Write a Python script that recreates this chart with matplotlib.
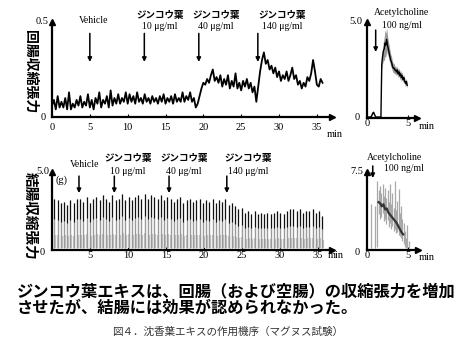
import matplotlib
matplotlib.use('Agg')
import matplotlib.pyplot as plt
import numpy as np

plt.rcParams['font.family'] = ['Liberation Serif', 'Noto Sans CJK JP']

W, H = 460, 355
JP = ['Noto Sans CJK JP', 'DejaVu Sans']

# --- 回腸 (ileum) trace, one value every 0.25 min ---
ileum_step = 0.25
ileum_force = [
    0.06, 0.09, 0.04, 0.11, 0.05, 0.08, 0.05, 0.10, 0.04, 0.13, 0.04, 0.07,
    0.05, 0.09, 0.06, 0.11, 0.05, 0.08, 0.06, 0.12, 0.05, 0.09, 0.04, 0.10,
    0.07, 0.13, 0.05, 0.09, 0.07, 0.11, 0.05, 0.14, 0.06, 0.10, 0.07, 0.12,
    0.07, 0.10, 0.08, 0.13, 0.07, 0.12, 0.08, 0.11, 0.07, 0.13, 0.08, 0.10,
    0.07, 0.12, 0.08, 0.10, 0.07, 0.11, 0.08, 0.10, 0.07, 0.11, 0.08, 0.12,
    0.07, 0.10, 0.08, 0.11, 0.07, 0.12, 0.08, 0.10, 0.08, 0.13, 0.08, 0.11,
    0.09, 0.13, 0.08, 0.10, 0.05, 0.07, 0.11, 0.15, 0.18, 0.17, 0.20, 0.18,
    0.22, 0.25, 0.19, 0.21, 0.18, 0.22, 0.16, 0.20, 0.17, 0.22, 0.15, 0.19,
    0.16, 0.23, 0.15, 0.18, 0.14, 0.19, 0.16, 0.20, 0.15, 0.18, 0.13, 0.16,
    0.08, 0.16, 0.24, 0.30, 0.34, 0.28, 0.30, 0.25, 0.27, 0.23, 0.26, 0.21,
    0.24, 0.19, 0.22, 0.20, 0.24, 0.19, 0.22, 0.26, 0.20, 0.22, 0.17, 0.19,
    0.15, 0.18, 0.16, 0.21, 0.19, 0.23, 0.30, 0.24, 0.17, 0.16, 0.20, 0.18,
]
ileum_dose_t = [5.0, 12.2, 19.4, 27.2]
ileum_label_t = [5.55, 14.3, 21.7, 30.4]

# --- 回腸 アセチルコリン, one value every 0.1 min ---
ach_il_step = 0.1
ach_il_mean = [
    0.05, 0.05, 0.05, 0.05, 0.05, 0.05, 0.15, 0.25, 0.30, 0.20, 0.10, 0.05,
    0.05, 0.05, 0.05, 0.05, 0.05, 0.05, 2.8, 3.2, 3.5, 3.6, 3.9, 3.8, 4.1,
    3.8, 3.6, 3.4, 3.2, 3.0, 2.9, 2.7, 2.6, 2.6, 2.5, 2.5, 2.4, 2.5, 2.3,
    2.4, 2.2, 2.3, 2.1, 2.2, 2.0, 2.1, 1.9, 1.8, 1.9, 1.7,
]
ach_il_spread = [
    0.02, 0.02, 0.02, 0.02, 0.02, 0.02, 0.03, 0.04, 0.04, 0.03, 0.02, 0.02,
    0.02, 0.02, 0.02, 0.02, 0.02, 0.02, 0.3, 0.4, 0.5, 0.6, 0.7, 0.6, 0.6,
    0.5, 0.4, 0.4, 0.35, 0.3, 0.3, 0.25, 0.25, 0.25, 0.2, 0.2, 0.2, 0.2, 0.2,
    0.2, 0.2, 0.2, 0.2, 0.2, 0.15, 0.15, 0.15, 0.15, 0.15, 0.15,
]
ach_il_dose_t = 1.06

# --- 結腸 (colon) spikes, one every 0.425 min from 0.3 min ---
colon_start = 0.3
colon_period = 0.425
colon_peaks = [
    3.3, 3.2, 3.0, 3.1, 2.9, 3.2, 3.0, 3.3,
    3.3, 3.1, 3.4, 3.0, 3.3, 3.4, 3.2, 3.5,
    3.3, 3.1, 3.5, 3.2, 3.3, 3.6, 3.2, 3.4,
    3.2, 3.4, 3.5, 3.3, 3.6, 3.3, 3.5, 3.4,
    3.3, 3.5, 3.2, 3.4, 3.3, 3.1, 3.3, 3.4,
    3.0, 3.2, 3.3, 3.1, 3.2, 3.3, 3.0, 3.2,
    3.1, 3.3, 3.0, 3.2, 3.1, 3.3, 2.9, 3.0,
    2.8, 2.6, 2.7, 2.4, 2.5, 2.3, 2.5, 2.3,
    2.4, 2.3, 2.4, 2.3, 2.4, 2.5, 2.4, 2.3,
    2.5, 2.6, 2.6, 2.5, 2.6, 2.4, 2.5, 2.5,
    2.6, 2.4, 2.5, 2.2,
]
colon_trough = 0.15
colon_dose_t = [3.55, 8.2, 15.4, 23.0]
colon_label_t = [4.34, 10.0, 17.4, 25.8]

# --- 結腸 アセチルコリン spikes ---
ach_co_t = [0.45, 0.95, 1.25, 1.45, 1.6, 1.75, 1.9, 2.05, 2.2, 2.35, 2.5,
            2.65, 2.8, 2.95, 3.1, 3.25, 3.4, 3.55, 3.7, 3.85, 4.0, 4.15,
            4.3, 4.45, 4.6, 4.75, 4.9, 5.05]
ach_co_low = [0.2, 0.2, 0.3, 3.5, 3.0, 3.2, 3.6, 2.8, 3.0, 2.5, 2.9, 2.2,
              2.6, 2.0, 2.3, 1.8, 2.0, 1.6, 1.7, 1.4, 1.3, 1.2, 0.9, 0.6,
              0.3, 0.2, 0.2, 0.2]
ach_co_high = [4.4, 4.2, 6.6, 5.8, 6.2, 5.5, 6.3, 5.2, 6.0, 5.0, 5.8, 4.6,
               6.3, 4.4, 5.5, 4.0, 6.6, 3.8, 4.7, 5.9, 3.6, 4.2, 3.0, 2.6,
               1.8, 1.2, 2.4, 0.9]
ach_co_mid_t0 = 1.4
ach_co_mid_step = 0.2
ach_co_mid = [4.6, 4.5, 4.2, 4.4, 3.9, 4.0, 3.6, 3.4, 3.2, 3.0, 2.8, 2.6,
              2.3, 2.0, 1.7, 1.5]
ach_co_dose_t = 0.7

xticks_main = [0, 5, 10, 15, 20, 25, 30, 35]


def px_axes(fig, left, top, right, bottom):
    return fig.add_axes([left / W, 1 - bottom / H, (right - left) / W, (bottom - top) / H])


def style_axes(ax, xmax, ymax):
    ax.set_xlim(0, xmax)
    ax.set_ylim(0, ymax)
    for s in ['top', 'right']:
        ax.spines[s].set_visible(False)
    for s in ['left', 'bottom']:
        ax.spines[s].set_linewidth(1.6)
    ax.plot([0], [ymax], marker='^', color='k', ms=4.5, clip_on=False)
    ax.plot([xmax], [0], marker='>', color='k', ms=4.5, clip_on=False)
    ax.set_yticks([])
    ax.tick_params(axis='x', direction='in', length=2, width=0.8, labelsize=7.5, pad=2)
    ax.patch.set_alpha(0)


def dose_arrow(ax, x, y0, y1):
    ax.annotate('', xy=(x, y1), xytext=(x, y0),
                arrowprops=dict(arrowstyle='-|>', color='k', lw=1.1, mutation_scale=6,
                                shrinkA=0, shrinkB=0),
                annotation_clip=False)


fig = plt.figure(figsize=(W / 100, H / 100), dpi=100)

# ---------------- ileum ----------------
ax1 = px_axes(fig, 52, 22, 332, 117)
t1 = np.arange(len(ileum_force)) * ileum_step
ax1.plot(t1, ileum_force, color='k', lw=1.3)
style_axes(ax1, 37, 0.5)
ax1.set_xticks(xticks_main)
ax1.tick_params(axis='x', pad=4)
ax1.text(-0.5, 0.5, '0.5', ha='right', va='center', fontsize=7.5)
ax1.text(-0.8, 0.0, '0', ha='right', va='center', fontsize=7.5)
ax1.text(37.3, -0.09, 'min', ha='center', va='center', fontsize=7.5)
ax1.text(ileum_label_t[0], 0.51, 'Vehicle', ha='center', va='center', fontsize=7)
doses = ['10', '40', '140']
for i, t in enumerate(ileum_dose_t):
    dose_arrow(ax1, t, 0.44, 0.29)
    if i > 0:
        ax1.text(ileum_label_t[i], 0.537, 'ジンコウ葉', ha='center', va='center',
                 fontsize=6.8, fontweight='bold', family=JP)
        ax1.text(ileum_label_t[i], 0.474, doses[i - 1] + ' μg/ml', ha='center',
                 va='center', fontsize=7)

# ---------------- ileum ACh ----------------
ax2 = px_axes(fig, 367, 22, 417, 118)
t2 = np.arange(len(ach_il_mean)) * ach_il_step
m2 = np.array(ach_il_mean)
s2 = np.array(ach_il_spread)
ax2.fill_between(t2, m2 - s2, m2 + s2, color='#999999', lw=0)
ax2.plot(t2, m2, color='k', lw=1.0)
style_axes(ax2, 6.1, 5.0)
ax2.set_xticks([0, 5])
ax2.tick_params(axis='x', pad=1)
ax2.text(-0.6, 5.0, '5.0', ha='right', va='center', fontsize=7.5)
ax2.text(-0.9, 0.0, '0', ha='right', va='center', fontsize=7.5)
ax2.text(7.3, -0.45, 'min', ha='center', va='center', fontsize=7.5)
ax2.text(4.27, 5.47, 'Acetylcholine', ha='center', va='center', fontsize=7)
ax2.text(4.27, 4.84, '100 ng/ml', ha='center', va='center', fontsize=7)
dose_arrow(ax2, ach_il_dose_t, 4.58, 3.44)

# ---------------- colon ----------------
ax3 = px_axes(fig, 52, 172, 332, 250)
t3 = colon_start + np.arange(len(colon_peaks)) * colon_period
p3 = np.array(colon_peaks)
ax3.vlines(t3 + 0.1, colon_trough, p3 * 0.3, color='#c4c4c4', lw=1.6)
ax3.vlines(t3, colon_trough, p3, color='#9a9a9a', lw=1.0)
ax3.vlines(t3, p3 * 0.6, p3, color='#111111', lw=0.8)
style_axes(ax3, 36.84, 5.0)
ax3.set_xticks(xticks_main)
ax3.set_xticklabels([''] + [str(v) for v in xticks_main[1:]])
ax3.tick_params(axis='x', pad=1)
ax3.text(-0.3, 5.0, '5.0', ha='right', va='center', fontsize=7.5)
ax3.text(1.2, 4.5, '(g)', ha='center', va='center', fontsize=7.5)
ax3.text(-0.9, -0.15, '0', ha='right', va='center', fontsize=7.5)
ax3.text(37.3, -0.35, 'min', ha='center', va='center', fontsize=7.5)
ax3.text(colon_label_t[0], 5.45, 'Vehicle', ha='center', va='center', fontsize=7)
for i, t in enumerate(colon_dose_t):
    dose_arrow(ax3, t, 4.74, 3.65)
    if i > 0:
        ax3.text(colon_label_t[i], 5.9, 'ジンコウ葉', ha='center', va='center',
                 fontsize=6.8, fontweight='bold', family=JP)
        ax3.text(colon_label_t[i], 5.0, doses[i - 1] + ' μg/ml', ha='center',
                 va='center', fontsize=7)

# ---------------- colon ACh ----------------
ax4 = px_axes(fig, 367, 172, 418, 250)
ax4.vlines(ach_co_t, ach_co_low, ach_co_high, color='#a8a8a8', lw=0.9)
tm = ach_co_mid_t0 + np.arange(len(ach_co_mid)) * ach_co_mid_step
ax4.plot(tm, ach_co_mid, color='#333333', lw=1.6)
style_axes(ax4, 6.2, 7.5)
ax4.set_xticks([0, 5])
ax4.tick_params(axis='x', pad=1)
ax4.text(-0.4, 7.5, '7.5', ha='right', va='center', fontsize=7.5)
ax4.text(-0.9, -0.2, '0', ha='right', va='center', fontsize=7.5)
ax4.text(7.3, -0.7, 'min', ha='center', va='center', fontsize=7.5)
ax4.text(3.4, 8.94, 'Acetylcholine', ha='center', va='center', fontsize=7)
ax4.text(4.5, 7.79, '100 ng/ml', ha='center', va='center', fontsize=7)
dose_arrow(ax4, ach_co_dose_t, 8.08, 6.92)

# ---------------- y labels & captions ----------------
fig.text(30 / W, 1 - 72 / H, '回腸収縮張力', rotation=-90, ha='center', va='center',
         fontsize=10, fontweight='bold', family=JP)
fig.text(31 / W, 1 - 216 / H, '結腸収縮張力', rotation=-90, ha='center', va='center',
         fontsize=10.5, fontweight='bold', family=JP)
fig.text(17 / W, 1 - 291 / H, 'ジンコウ葉エキスは、回腸（および空腸）の収縮張力を増加',
         ha='left', va='center', fontsize=11.7, fontweight='bold', family=JP)
fig.text(17 / W, 1 - 308 / H, 'させたが、結腸には効果が認められなかった。',
         ha='left', va='center', fontsize=11.7, fontweight='bold', family=JP)
fig.text(228 / W, 1 - 332 / H, '図４．沈香葉エキスの作用機序（マグヌス試験）',
         ha='center', va='center', fontsize=7.6, color='#333333', family=JP)

fig.savefig('out.png', dpi=100)
